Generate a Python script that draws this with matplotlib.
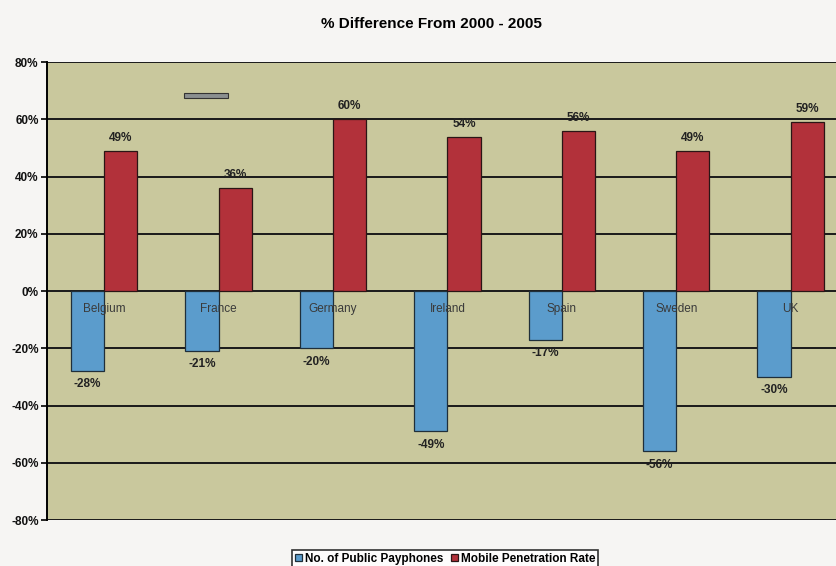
import matplotlib.pyplot as plt
import numpy as np
from matplotlib.patches import Rectangle

countries = ["Belgium", "France", "Germany", "Ireland", "Spain", "Sweden", "UK"]
payphones = [-28, -21, -20, -49, -17, -56, -30]
mobile = [49, 36, 60, 54, 56, 49, 59]
yticks = [-80, -60, -40, -20, 0, 20, 40, 60, 80]

BLUE = "#5b9ccc"
RED = "#b2313a"
PLOT_BG = "#c9c89d"
NARROW = ["Liberation Sans Narrow", "Liberation Sans", "DejaVu Sans"]

fig = plt.figure(figsize=(8.37, 5.66), dpi=100, facecolor="#f6f5f3")
ax = fig.add_axes([0.056, 0.081, 0.957, 0.809])
ax.set_facecolor(PLOT_BG)

x = np.arange(len(countries))
w = 0.29
b1 = ax.bar(x - w / 2, payphones, w, color=BLUE, edgecolor="#1f2f3a",
            linewidth=0.9, zorder=3, label="No. of Public Payphones")
b2 = ax.bar(x + w / 2, mobile, w, color=RED, edgecolor="#2a1515",
            linewidth=0.9, zorder=3, label="Mobile Penetration Rate")

for xi, v in zip(x - w / 2, payphones):
    ax.text(xi, v - 2.5, f"{v}%", ha="center", va="top", fontsize=8.5,
            fontweight="bold", family=NARROW, color="#222222", zorder=4)
for xi, v in zip(x + w / 2, mobile):
    ax.text(xi, v + 2.5, f"{v}%", ha="center", va="bottom", fontsize=8.5,
            fontweight="bold", family=NARROW, color="#222222", zorder=4)

# category names sit just under the zero line, inside the plot
for xi, name in zip(x, countries):
    ax.text(xi, -4, name, ha="center", va="top", fontsize=8.5,
            family=NARROW, color="#3a3a3a", zorder=4)

ax.set_xlim(-0.5, len(countries) - 0.5)
ax.set_ylim(-80, 80)
ax.set_yticks(yticks)
ax.set_yticklabels([f"{t}%" for t in yticks], fontsize=8.5,
                   fontweight="bold", family=NARROW, color="#111111")
ax.set_xticks([])
ax.grid(axis="y", color="#1a1a1a", linewidth=1.4, zorder=1)
for s in ["top", "right", "bottom"]:
    ax.spines[s].set_visible(False)
ax.spines["left"].set_linewidth(1.4)
ax.tick_params(axis="y", length=4, width=1.2, pad=2)

# small grey dash near the top of the plot area
ax.add_patch(Rectangle((0.7, 67.5), 0.38, 1.6, facecolor="#8a8f90",
                       edgecolor="#333333", linewidth=0.8, zorder=2))

fig.text(0.515, 0.958, "% Difference From 2000 - 2005", ha="center",
         va="center", fontsize=11, fontweight="bold", family=NARROW)

leg = fig.legend(handles=[b1, b2], loc="lower center",
                 bbox_to_anchor=(0.532, -0.012), ncol=2, frameon=True,
                 prop={"family": NARROW, "weight": "bold", "size": 8.5},
                 handlelength=0.6, handleheight=0.6, handletextpad=0.3,
                 columnspacing=0.6, borderpad=0.2, fancybox=False)
leg.get_frame().set_edgecolor("black")
leg.get_frame().set_linewidth(1.2)
leg.get_frame().set_facecolor("white")

fig.savefig("out.png", dpi=100, facecolor=fig.get_facecolor())
